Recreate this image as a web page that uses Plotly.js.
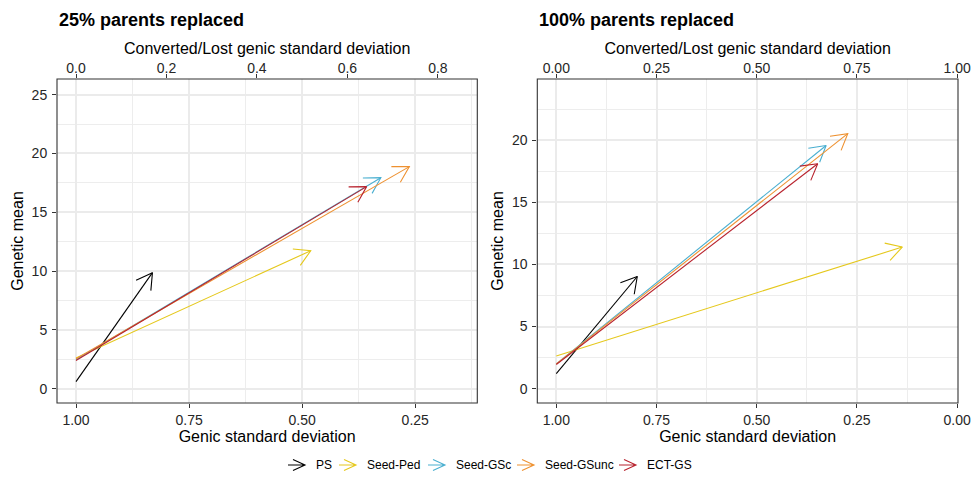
<!DOCTYPE html>
<html><head><meta charset="utf-8">
<script src="https://cdn.plot.ly/plotly-3.0.1.min.js"></script>
<style>html,body{margin:0;padding:0;background:#fff}</style>
</head><body><div id="chart" style="width:971px;height:479px"></div>
<script>
// ---- data ----
const series = ["PS", "Seed-Ped", "Seed-GSc", "Seed-GSunc", "ECT-GS"];
const colors = ["#000000", "#E5C81C", "#4AAFD0", "#EE9130", "#B8232E"];
const panelTitles = ["25% parents replaced", "100% parents replaced"];
// 25% parents replaced
const p25SdStart   = [1.00, 1.00, 1.00, 1.00, 1.00];
const p25MeanStart = [0.60, 2.60, 2.45, 2.55, 2.40];
const p25SdEnd     = [0.831, 0.481, 0.326, 0.263, 0.3575];
const p25MeanEnd   = [9.86, 11.73, 17.94, 18.88, 17.18];
// 100% parents replaced
const p100SdStart   = [1.00, 1.00, 1.00, 1.00, 1.00];
const p100MeanStart = [1.21, 2.64, 2.00, 2.00, 1.95];
const p100SdEnd     = [0.798, 0.137, 0.327, 0.273, 0.348];
const p100MeanEnd   = [9.03, 11.40, 19.57, 20.52, 18.10];

// ---- geometry ----
const W = 971, H = 479;
const M = {l: 57, r: 13, t: 79, b: 76};
const PW = W - M.l - M.r, PH = H - M.t - M.b;
const dom1 = [0, 420.3 / PW];
const dom2 = [(537.3 - M.l) / PW, 1];
const xr1 = [1.042, 0.1128], yr1 = [-1.22, 26.33];
const xr2 = [1.0474, -0.002], yr2 = [-1.15, 24.92];
const FONT = "Liberation Sans, Arial, Helvetica, sans-serif";

function arrowXY(x0, y0, x1, y1, xr, yr, dom) {
  const wpx = (dom[1] - dom[0]) * PW, hpx = PH;
  const sx = wpx / (xr[1] - xr[0]), sy = hpx / (yr[1] - yr[0]);
  const th = Math.atan2((y1 - y0) * sy, (x1 - x0) * sx);
  const L = 18, a = Math.PI / 6;
  const pts = [th + a, th - a].map(t => [x1 - L * Math.cos(t) / sx, y1 - L * Math.sin(t) / sy]);
  return {
    x: [x0, x1, null, pts[0][0], x1, pts[1][0]],
    y: [y0, y1, null, pts[0][1], y1, pts[1][1]]
  };
}

const traces = [];
series.forEach((s, i) => {
  const a = arrowXY(p25SdStart[i], p25MeanStart[i], p25SdEnd[i], p25MeanEnd[i], xr1, yr1, dom1);
  traces.push({type: "scatter", mode: "lines", x: a.x, y: a.y, xaxis: "x", yaxis: "y",
    name: s, legendgroup: s, showlegend: false, line: {color: colors[i], width: 1.1}, hoverinfo: "skip"});
});
series.forEach((s, i) => {
  const a = arrowXY(p100SdStart[i], p100MeanStart[i], p100SdEnd[i], p100MeanEnd[i], xr2, yr2, dom2);
  traces.push({type: "scatter", mode: "lines", x: a.x, y: a.y, xaxis: "x3", yaxis: "y2",
    name: s, legendgroup: s, showlegend: false, line: {color: colors[i], width: 1.1}, hoverinfo: "skip"});
});
// invisible traces on the secondary (converted/lost) axes so they are drawn
traces.push({type: "scatter", mode: "markers", x: p25SdEnd.map(v => 1 - v), y: p25MeanEnd, xaxis: "x2", yaxis: "y",
  marker: {opacity: 0}, showlegend: false, hoverinfo: "skip"});
traces.push({type: "scatter", mode: "markers", x: p100SdEnd.map(v => 1 - v), y: p100MeanEnd, xaxis: "x4", yaxis: "y2",
  marker: {opacity: 0}, showlegend: false, hoverinfo: "skip"});

const GRID = "#EBEBEB", MGRID = "#EDEDED", TXT = "#262626";
function baseAxis(extra) {
  return Object.assign({
    showline: false, zeroline: false, ticks: "outside", ticklen: 4, tickwidth: 1,
    tickcolor: "#333333", tickfont: {family: FONT, size: 14, color: TXT},
    showgrid: true, gridcolor: GRID, gridwidth: 2, fixedrange: true, ticklabeloverflow: "allow", automargin: false
  }, extra);
}
const xTitle = {text: "Genic standard deviation", standoff: 3, font: {family: FONT, size: 16, color: "#000"}};
const topTitle = {text: "Converted/Lost genic standard deviation", standoff: 1, font: {family: FONT, size: 16, color: "#000"}};
const yTitle = {text: "Genetic mean", standoff: 4, font: {family: FONT, size: 16, color: "#000"}};
const xMinor = {tickmode: "array", tickvals: [0.125, 0.375, 0.625, 0.875], showgrid: true, gridcolor: MGRID, gridwidth: 1, ticks: ""};
const yMinor = {tickmode: "array", tickvals: [2.5, 7.5, 12.5, 17.5, 22.5], showgrid: true, gridcolor: MGRID, gridwidth: 1, ticks: ""};

const layout = {
  width: W, height: H, margin: M, paper_bgcolor: "#fff", plot_bgcolor: "#fff",
  showlegend: false, font: {family: FONT},
  xaxis: baseAxis({domain: dom1, range: xr1, anchor: "y", side: "bottom", tick0: 0, dtick: 0.25, tickformat: ".2f",
    title: xTitle, minor: xMinor}),
  xaxis2: baseAxis({domain: dom1, range: [1 - xr1[0], 1 - xr1[1]], overlaying: "x", anchor: "y", side: "top",
    tick0: 0, dtick: 0.2, tickformat: ".1f", showgrid: false, title: topTitle, ticklabelstandoff: -5}),
  yaxis: baseAxis({domain: [0, 1], range: yr1, anchor: "x", tick0: 0, dtick: 5, title: yTitle, minor: yMinor, ticklabelstandoff: 2}),
  xaxis3: baseAxis({domain: dom2, range: xr2, anchor: "y2", side: "bottom", tick0: 0, dtick: 0.25, tickformat: ".2f",
    title: xTitle, minor: xMinor}),
  xaxis4: baseAxis({domain: dom2, range: [1 - xr2[0], 1 - xr2[1]], overlaying: "x3", anchor: "y2", side: "top",
    tick0: 0, dtick: 0.25, tickformat: ".2f", showgrid: false, title: topTitle, ticklabelstandoff: -5}),
  yaxis2: baseAxis({domain: [0, 1], range: yr2, anchor: "x3", tick0: 0, dtick: 5, title: yTitle, minor: yMinor, ticklabelstandoff: 2}),
  shapes: [
    {type: "rect", xref: "x domain", yref: "y domain", x0: 0, x1: 1, y0: 0, y1: 1, line: {color: "#333333", width: 1.1}, layer: "above"},
    {type: "rect", xref: "x3 domain", yref: "y2 domain", x0: 0, x1: 1, y0: 0, y1: 1, line: {color: "#333333", width: 1.1}, layer: "above"}
  ],
  annotations: [
    {xref: "paper", yref: "paper", x: dom1[0], y: (H - M.b - 20) / PH, xanchor: "left", yanchor: "middle", showarrow: false,
      text: "<b>" + panelTitles[0] + "</b>", font: {family: FONT, size: 18, color: "#000"}},
    {xref: "paper", yref: "paper", x: dom2[0], y: (H - M.b - 20) / PH, xanchor: "left", yanchor: "middle", showarrow: false,
      text: "<b>" + panelTitles[1] + "</b>", font: {family: FONT, size: 18, color: "#000"}}
  ]
};

// ---- manual legend with arrow keys ----
const keyX = [288, 339, 428, 517, 619];
const legY = 465;
function px2paperX(px) { return (px - M.l) / PW; }
function px2paperY(py) { return (H - M.b - py) / PH; }
series.forEach((s, i) => {
  const x0 = keyX[i], x1 = keyX[i] + 17;
  const path = "M" + px2paperX(x0) + "," + px2paperY(legY) + " L" + px2paperX(x1) + "," + px2paperY(legY) +
    " M" + px2paperX(x1 - 12) + "," + px2paperY(legY - 5.5) + " L" + px2paperX(x1) + "," + px2paperY(legY) +
    " L" + px2paperX(x1 - 12) + "," + px2paperY(legY + 5.5);
  layout.shapes.push({type: "path", xref: "paper", yref: "paper", path: path, line: {color: colors[i], width: 1.1}});
  layout.annotations.push({xref: "paper", yref: "paper", x: px2paperX(x1 + 9), y: px2paperY(legY), xanchor: "left", yanchor: "middle",
    showarrow: false, text: s, font: {family: FONT, size: 12, color: "#000"}});
});

Plotly.newPlot("chart", traces, layout, {displayModeBar: false, staticPlot: true});
</script>
</body></html>
